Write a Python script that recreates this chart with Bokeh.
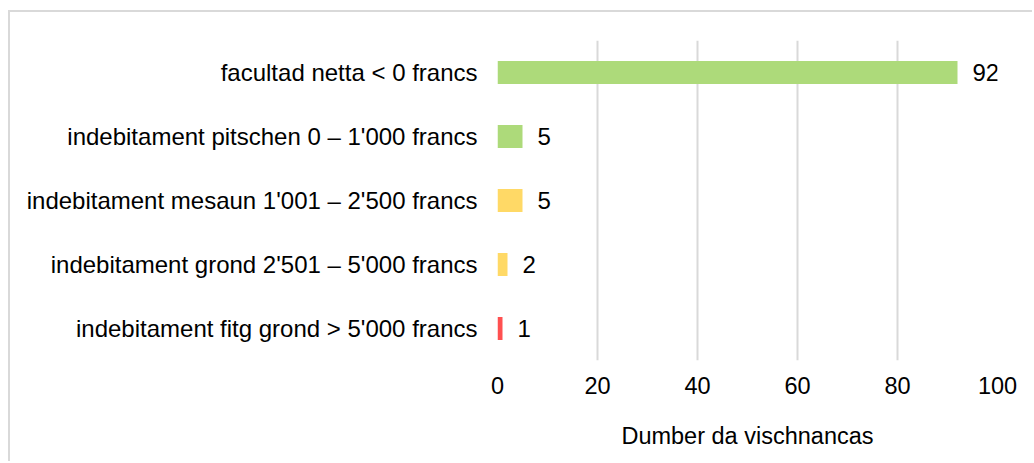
from bokeh.plotting import figure
from bokeh.models import FactorRange, Range1d, ColumnDataSource, LabelSet, FixedTicker
from bokeh.core.properties import value
from bokeh.embed import file_html
from bokeh.resources import INLINE

categories = [
    "facultad netta < 0 francs",
    "indebitament pitschen 0 – 1'000 francs",
    "indebitament mesaun 1'001 – 2'500 francs",
    "indebitament grond 2'501 – 5'000 francs",
    "indebitament fitg grond > 5'000 francs",
]
counts = [92, 5, 5, 2, 1]
colors = ["#ADDA7A", "#ADDA7A", "#FFD966", "#FFD966", "#FF5050"]
x_ticks = [0, 20, 40, 60, 80, 100]
x_title = "Dumber da vischnancas"

FONT = "Liberation Sans"

src = ColumnDataSource(dict(cat=categories, n=counts, color=colors,
                            label=[str(c) for c in counts]))

p = figure(
    width=1024, height=451,
    y_range=FactorRange(factors=categories[::-1], range_padding=0),
    x_range=Range1d(0, 100),
    output_backend="svg", toolbar_location=None,
    min_border_left=487, min_border_right=37,
    min_border_top=28, min_border_bottom=103,
)
p.styles = {"border-top": "2px solid #D9D9D9", "border-left": "2px solid #D9D9D9",
            "margin-top": "10px", "margin-left": "8px"}

p.hbar(y="cat", left=0, right="n", height=0.36, fill_color="color",
       line_color=None, source=src)

labels = LabelSet(x="n", y="cat", text="label", source=src, x_offset=15,
                  text_baseline="middle", text_align="left",
                  text_font=value(FONT), text_font_size="24px", text_color="#000000")
p.add_layout(labels)

p.outline_line_color = None
p.ygrid.grid_line_color = None
p.xgrid.grid_line_color = "#D9D9D9"
p.xgrid.grid_line_width = 2

p.xaxis.ticker = FixedTicker(ticks=x_ticks)
p.xaxis.axis_line_color = None
p.xaxis.major_tick_line_color = None
p.xaxis.minor_tick_line_color = None
p.xaxis.major_tick_out = 0
p.xaxis.major_label_standoff = 16
p.xaxis.major_label_text_font = FONT
p.xaxis.major_label_text_font_size = "23.5px"
p.xaxis.major_label_text_color = "#000000"
p.xaxis.axis_label = x_title
p.xaxis.axis_label_standoff = 26
p.xaxis.axis_label_text_font = FONT
p.xaxis.axis_label_text_font_size = "23.5px"
p.xaxis.axis_label_text_font_style = "normal"
p.xaxis.axis_label_text_color = "#000000"

p.yaxis.axis_line_color = None
p.yaxis.major_tick_line_color = None
p.yaxis.minor_tick_line_color = None
p.yaxis.major_tick_out = 0
p.yaxis.major_label_standoff = 20
p.yaxis.major_label_text_font = FONT
p.yaxis.major_label_text_font_size = "24px"
p.yaxis.major_label_text_color = "#000000"

open("out.html", "w").write(file_html(p, INLINE))
